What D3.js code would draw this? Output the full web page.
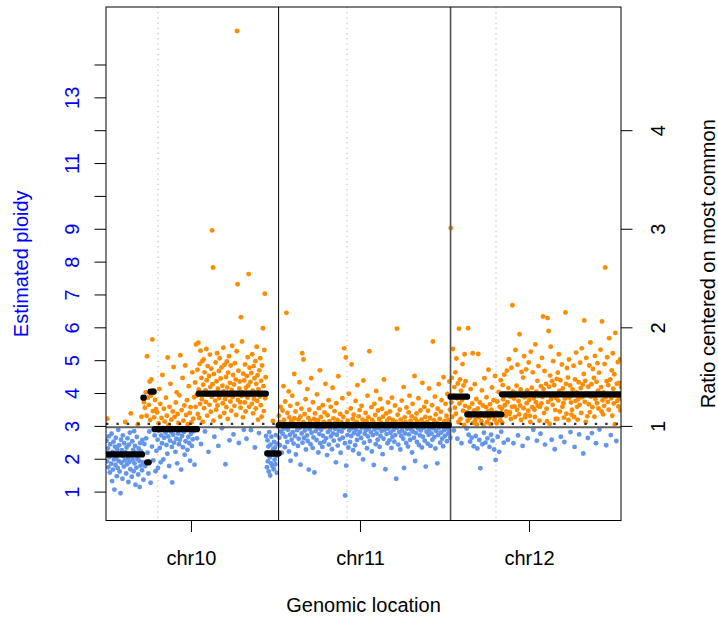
<!DOCTYPE html>
<html>
<head>
<meta charset="utf-8">
<script src="https://cdnjs.cloudflare.com/ajax/libs/d3/7.8.5/d3.min.js"></script>
<style>
body { margin: 0; background: #fff; }
svg text { font-family: "Liberation Sans", Arial, sans-serif; font-size: 20px; }
</style>
</head>
<body>
<div id="chart"></div>
<script>

// chromosomes (Mb)
var chrNames = ["chr10", "chr11", "chr12"];
var chrLengths = [135.53, 135.01, 133.85];
var centromeres = [40.8, 53.7, 35.7];
var chrTickMb = [66.7, 63.9, 61.6];

// axes
var ploidyTicks = [1, 2, 3, 4, 5, 6, 7, 8, 9, 10, 11, 12, 13, 14];
var ploidyLabels = [1, 2, 3, 4, 5, 6, 7, 8, 9, 11, 13];
var ratioTicks = [1, 2, 3, 4];

var colourSplit = 2.955;   // most common level, solid grey line
var refLevel = 3.06;       // dotted line

// [position Mb, estimated ploidy]
var chr10Points = [
[0.4,2.55],[0.8,1.92],[1.1,3.22],[1.5,2.31],[1.9,1.74],[2.2,2.68],[2.6,2.05],[3.0,1.58],[3.3,2.44],[3.7,2.12],
[4.1,1.85],[4.4,2.76],[4.8,1.32],[5.2,2.21],[5.5,1.67],[5.9,2.52],[6.3,1.98],[6.6,1.06],[7.0,2.37],[7.4,1.81],
[7.7,2.64],[8.1,2.02],[8.5,1.47],[8.8,2.29],[9.2,1.72],[9.6,2.88],[9.9,1.93],[10.3,2.41],[10.7,1.61],[11.0,2.15],
[11.4,0.95],[11.8,2.58],[12.1,1.88],[12.5,2.26],[12.9,1.39],[13.2,2.71],[13.6,2.08],[14.0,1.76],[14.3,2.47],[14.7,1.95],
[15.1,3.12],[15.4,2.19],[15.8,1.55],[16.2,2.34],[16.5,1.83],[16.9,2.62],[17.3,2.01],[17.6,1.29],[18.0,2.43],[18.4,1.9],
[18.7,2.79],[19.1,1.68],[19.5,3.38],[19.8,2.11],[20.2,1.45],[20.6,2.53],[20.9,1.97],[21.3,2.27],[21.7,1.62],[22.0,2.84],
[22.4,1.86],[22.8,2.39],[23.1,1.21],[23.5,2.18],[23.9,1.73],[24.2,2.66],[24.6,1.99],[25.0,3.05],[25.3,1.52],[25.7,2.31],
[26.1,1.94],[26.4,1.14],[26.8,2.48],[27.2,1.79],[27.5,2.22],[27.9,3.28],[28.3,1.65],[28.6,2.57],[29.0,1.89],[29.4,1.36],
[29.8,3.72],[30.1,2.45],[30.5,3.55],[30.8,1.78],[31.2,4.02],[31.5,2.62],[31.9,3.31],[32.2,5.12],[32.6,2.18],[32.9,3.86],
[33.3,1.55],[33.6,3.64],[34.0,2.83],[34.3,4.35],[34.7,3.18],[35.0,1.27],[35.4,3.92],[35.7,4.41],[36.1,2.37],[36.4,5.63],
[36.8,3.45],[37.1,1.95],[37.5,4.08],[37.8,3.26],[38.2,2.71],[38.5,3.79],[38.9,1.62],[39.2,3.51],[39.6,2.24],
[40.1,3.41],[40.5,2.58],[40.8,1.72],[41.2,3.08],[41.5,2.86],[41.9,4.12],[42.2,2.33],[42.6,3.67],[42.9,1.89],[43.3,2.71],
[43.6,3.24],[44.0,2.47],[44.3,4.55],[44.7,2.91],[45.0,1.98],[45.4,3.52],[45.7,2.64],[46.1,3.13],[46.4,1.45],[46.8,2.79],
[47.1,3.86],[47.5,2.42],[47.8,3.31],[48.2,2.15],[48.5,5.08],[48.9,2.68],[49.2,3.02],[49.6,1.78],[49.9,3.58],[50.3,2.55],
[50.6,4.28],[51.0,2.82],[51.3,3.19],[51.7,2.36],[52.0,1.28],[52.4,3.44],[52.7,2.73],[53.1,4.79],[53.4,2.49],[53.8,3.27],
[54.1,2.92],[54.5,2.21],[54.8,3.71],[55.2,2.61],[55.5,4.02],[55.9,1.86],[56.2,3.36],[56.6,2.77],[56.9,3.09],[57.3,2.44],
[57.6,3.93],[58.0,2.58],[58.3,5.15],[58.7,2.87],[59.0,1.67],[59.4,3.48],[59.7,2.69],[60.1,4.46],[60.4,2.35],[60.8,3.16],
[61.1,2.81],[61.5,3.62],[61.8,2.12],[62.2,4.84],[62.5,2.53],[62.9,3.33],[63.2,2.94],[63.6,3.78],[63.9,2.27],[64.3,3.05],
[64.6,2.66],[65.0,4.21],[65.3,2.48],[65.7,3.39],[66.0,1.94],[66.4,3.57],[66.7,2.76],[67.1,3.11],[67.4,2.39],[67.8,4.63],
[68.1,2.59],[68.5,3.22],[68.8,2.84],[69.2,3.87],[69.5,1.82],
[70.0,4.32],[70.4,3.58],[70.7,5.48],[71.1,3.92],[71.4,2.62],[71.8,4.71],[72.1,3.36],[72.5,5.53],[72.8,4.11],[73.2,3.24],
[73.5,4.88],[73.9,3.67],[74.2,5.29],[74.6,2.45],[74.9,4.46],[75.3,3.81],[75.6,4.97],[76.0,3.12],[76.3,4.25],[76.7,5.02],
[77.0,3.54],[77.4,4.63],[77.7,2.83],[78.1,4.08],[78.4,3.73],[78.8,5.34],[79.1,4.39],[79.5,3.31],[79.8,4.82],[80.2,3.95],
[80.5,2.21],[80.9,4.52],[81.2,3.64],[81.6,5.17],[81.9,4.18],[82.3,3.43],[82.6,4.74],[83.0,3.89],[83.3,8.95],[83.7,4.27],
[84.0,7.82],[84.4,3.16],[84.7,4.58],[85.1,2.67],[85.4,4.01],[85.8,3.77],[86.1,4.93],[86.5,3.49],[86.8,4.36],[87.2,5.21],
[87.5,3.62],[87.9,4.13],[88.2,2.39],[88.6,4.67],[88.9,3.85],[89.3,5.06],[89.6,3.28],[90.0,4.44],[90.3,3.96],[90.7,4.78],
[91.0,2.93],[91.4,4.22],[91.7,3.69],[92.1,5.38],[92.4,4.05],[92.8,3.39],[93.1,4.86],[93.5,3.82],[93.8,1.83],[94.2,4.49],
[94.5,3.57],[94.9,4.96],[95.2,4.17],[95.6,3.21],[95.9,4.62],[96.3,3.93],[96.6,5.12],[97.0,2.56],[97.3,4.31],[97.7,3.74],
[98.0,4.84],[98.4,3.46],[98.7,4.09],[99.1,5.44],[99.4,3.88],[99.8,4.55],[100.1,2.74],[100.5,4.26],[100.8,3.61],[101.2,4.91],
[101.5,3.97],[101.9,4.41],[102.2,3.33],[102.6,5.27],[102.9,15.02],[103.3,7.31],[103.6,3.79],[104.0,4.68],[104.3,2.48],[104.7,4.14],
[105.0,4.35],[105.4,3.72],[105.7,3.55],[106.0,6.31],[106.4,3.91],[106.8,5.57],[107.1,4.02],[107.5,3.26],[107.8,4.59],[108.2,2.88],
[108.5,4.38],[108.9,3.71],[109.2,4.87],[109.6,3.44],[109.9,4.16],[110.3,2.61],[110.6,4.52],[111.0,3.86],[111.3,5.09],[111.7,4.23],
[112.0,7.62],[112.4,3.58],[112.7,4.77],[113.1,3.95],[113.4,4.34],[113.8,2.87],[114.1,4.61],[114.5,3.67],[114.8,5.18],[115.2,4.07],
[115.5,3.38],[115.9,4.82],[116.2,3.82],[116.6,4.45],[116.9,2.34],[117.3,4.97],[117.6,3.53],[118.0,4.28],[118.3,5.41],[118.7,3.76],
[119.0,4.54],[119.4,3.19],[119.7,4.12],[120.1,2.78],[120.4,4.69],[120.8,3.89],[121.1,5.06],[121.5,3.63],[121.8,4.37],[122.2,3.28],
[122.5,4.84],[122.9,3.97],[123.2,5.97],[123.6,4.21],[123.9,3.45],[124.3,5.31],[124.7,7.02],[125.0,3.84],[125.4,4.48],[125.7,2.69],
[126.1,2.18],[126.4,1.74],[126.8,2.56],[127.1,1.92],[127.5,2.37],[127.8,1.61],[128.2,2.81],[128.5,2.04],[128.9,1.49],[129.2,2.43],
[129.6,1.86],[129.9,2.67],[130.3,2.12],[130.6,1.78],[131.0,3.15],[131.3,2.29],[131.7,1.68],[132.0,2.51],[132.4,1.97],[132.7,2.34],
[133.1,1.83],[133.4,2.72],[133.8,2.09],[134.1,1.57],[134.5,2.46]
];

var chr11Points = [
[0.2,3.31],[0.5,2.64],[0.9,3.12],[1.0,2.41],[1.6,3.58],[1.8,2.83],[2.3,3.05],[2.5,2.18],[3.1,3.47],[3.2,2.76],
[3.8,4.21],[4.1,2.92],[4.3,3.18],[4.9,2.35],[5.2,3.74],[5.4,2.67],[6.1,6.44],[6.2,3.02],[6.8,2.51],[7.0,3.39],
[7.3,2.88],[7.9,4.05],[8.1,2.22],[8.4,3.26],[8.9,2.73],[9.2,3.61],[9.4,1.94],[10.0,3.14],[10.2,2.58],[10.7,3.92],
[11.1,2.81],[11.3,3.08],[11.8,2.46],[12.3,4.58],[12.4,3.23],[12.9,2.69],[13.3,3.44],[13.6,2.13],[14.0,3.01],[14.5,2.87],
[14.7,3.67],[15.2,2.39],[15.6,3.19],[15.8,2.61],[16.4,4.33],[16.6,2.94],[17.1,3.28],[17.2,1.82],[17.9,3.52],[18.1,2.77],
[18.5,5.21],[18.8,2.49],[19.3,3.11],[19.5,5.02],[20.0,2.63],[20.4,3.36],[20.6,2.86],[21.2,3.81],[21.5,2.28],[21.7,3.06],
[22.3,2.71],[22.6,4.12],[22.8,2.54],[23.4,3.24],[23.7,1.67],[24.1,3.49],[24.3,2.9],[24.9,3.15],[25.1,2.44],[25.6,4.45],
[25.9,2.79],[26.2,3.03],[26.8,2.33],[27.0,3.72],[27.4,2.65],[27.9,3.21],[28.1,1.58],[28.6,3.38],[29.0,2.84],[29.3,3.09],
[29.8,2.57],[30.1,3.96],[30.4,2.92],[31.0,3.17],[31.2,2.19],[31.7,3.54],[32.0,2.75],[32.4,4.69],[32.7,2.47],[33.2,3.27],
[33.5,2.88],[33.9,3.04],[34.3,2.36],[34.7,3.63],[34.8,2.7],[35.4,3.12],[35.8,2.52],[36.1,3.41],[36.6,2.96],[36.8,4.28],
[37.3,2.62],[37.6,3.07],[38.1,2.11],[38.4,3.32],[38.7,2.81],[39.3,3.78],[39.5,2.43],[40.0,3.14],[40.3,2.89],[40.9,3.58],
[41.1,2.68],[41.5,3.02],[41.9,2.29],[42.4,4.16],[42.6,2.77],[43.1,3.23],[43.3,2.55],[43.9,3.45],[44.2,2.91],[44.5,3.09],
[45.0,1.89],[45.3,3.69],[45.7,2.73],[46.2,3.18],[46.4,2.4],[46.9,4.51],[47.3,2.85],[47.5,3.05],[48.0,2.59],[48.4,3.36],
[48.7,2.18],[49.3,3.11],[49.5,2.83],[50.1,3.84],[50.4,2.64],[50.8,3.27],[51.2,2.94],[51.5,5.36],[52.1,2.47],[52.3,0.88],
[52.8,5.08],[53.1,1.79],[53.6,3.42],[54.0,2.72],[54.2,3.16],[54.8,2.34],[55.1,3.98],[55.4,2.86],[55.9,3.04],[56.1,2.51],
[56.6,3.53],[57.0,2.69],[57.3,4.87],[57.7,2.93],[58.2,3.21],[58.5,2.26],[58.9,3.34],[59.2,2.78],[59.6,3.07],[60.1,2.41],
[60.5,3.76],[60.7,2.88],[61.3,3.12],[61.6,2.57],[61.9,4.24],[62.5,2.74],[62.8,3.29],[63.0,2.15],[63.6,3.48],[63.9,2.82],
[64.2,3.02],[64.8,2.63],[65.1,3.61],[65.4,2.95],[65.9,3.19],[66.3,1.98],[66.6,4.38],[67.1,2.49],[67.4,3.08],[67.7,2.76],
[68.3,3.39],[68.5,2.87],[69.0,3.14],[69.4,2.32],[69.8,3.92],[70.1,2.68],[70.5,3.26],[70.8,2.91],[71.3,5.27],[71.6,2.54],
[72.1,3.04],[72.4,2.81],[72.9,3.57],[73.2,2.22],[73.5,3.18],[74.0,2.72],[74.3,3.11],[74.7,1.81],[75.2,3.67],[75.4,2.89],
[75.9,3.33],[76.3,2.44],[76.6,4.06],[76.9,2.77],[77.5,3.06],[77.8,2.58],[78.1,3.47],[78.6,2.93],[78.9,3.21],[79.3,2.36],
[79.8,3.82],[80.0,2.69],[80.5,3.09],[80.9,2.84],[81.2,3.52],[81.7,2.14],[82.0,3.28],[82.4,2.61],[82.7,4.41],[83.3,2.88],
[83.6,3.03],[83.9,1.68],[84.5,3.38],[84.8,2.75],[85.2,3.15],[85.5,2.47],[86.0,3.71],[86.2,2.91],[86.8,3.23],[87.1,2.56],
[87.4,3.44],[87.9,2.79],[88.3,3.07],[88.6,2.33],[89.0,3.86],[89.4,2.66],[89.7,3.18],[90.2,2.87],[90.5,3.01],[90.9,2.52],
[91.4,3.62],[91.6,2.72],[92.1,3.12],[92.3,1.39],[92.9,5.96],[93.2,2.94],[93.5,3.34],[94.0,2.43],[94.4,3.05],[94.7,2.81],
[95.1,3.49],[95.6,2.28],[95.8,3.19],[96.3,2.69],[96.7,3.77],[97.0,2.86],[97.5,3.08],[97.8,2.61],[98.2,4.18],[98.5,1.72],
[99.0,3.26],[99.3,2.77],[99.7,3.11],[100.2,2.48],[100.4,3.56],[100.9,2.91],[101.3,3.04],[101.6,2.37],[102.1,3.41],
[102.5,2.74],[102.8,3.92],[103.3,2.58],[103.6,3.15],[104.0,2.89],[104.5,3.29],[104.8,2.19],[105.2,3.67],[105.5,2.83],
[106.0,3.06],[106.3,2.64],[106.7,4.52],[107.2,1.93],[107.4,3.22],[107.9,2.78],[108.3,3.38],[108.6,2.51],[109.0,3.13],
[109.5,2.92],[109.8,3.84],[110.2,2.42],[110.5,3.02],[111.0,2.71],[111.4,3.47],[111.6,2.86],[112.2,3.19],[112.5,2.34],
[112.9,4.31],[113.3,2.67],[113.6,3.09],[114.0,2.94],[114.4,3.58],[114.7,2.55],[115.2,3.27],[115.5,1.76],[115.9,3.73],
[116.2,2.82],[116.6,3.12],[117.0,2.46],[117.3,3.46],[117.8,2.73],[118.1,4.14],[118.4,2.89],[118.9,3.24],[119.3,2.39],
[119.6,3.04],[120.0,2.77],[120.5,3.63],[120.7,2.58],[121.2,5.57],[121.6,2.93],[121.9,3.17],[122.4,2.66],[122.7,3.89],
[123.1,2.31],[123.4,3.35],[123.9,2.84],[124.2,3.08],[124.6,1.86],[124.9,3.52],[125.4,2.72],[125.7,4.27],[126.1,2.95],
[126.5,3.21],[126.8,2.49],[127.3,3.43],[127.6,2.8],[128.0,3.78],[128.4,2.61],[128.7,3.06],[129.2,2.38],[129.5,4.48],
[129.9,2.87],[130.3,3.14],[130.6,2.69],[131.1,3.67],[131.4,2.91],[131.8,3.31],[132.2,2.53],[132.5,3.97],[133.0,2.76],
[133.3,3.18],[133.7,2.88],[134.1,4.35],[134.5,3.49],[134.8,2.64]
];

var chr12Points = [
[0.2,9.02],[0.6,3.71],[1.0,4.46],[1.4,3.28],[1.8,5.34],[2.2,3.92],[2.6,2.86],[3.0,4.18],[3.4,3.55],[3.8,4.63],
[4.2,3.37],[4.6,5.05],[5.0,3.84],[5.4,2.61],[5.8,4.29],[6.2,3.12],[6.6,5.96],[7.0,3.68],[7.4,4.41],[7.8,3.21],
[8.2,4.07],[8.6,2.47],[9.0,3.79],[9.4,4.88],[9.8,3.46],[10.2,4.23],[10.6,3.03],[11.0,5.18],[11.4,3.61],[11.8,4.36],
[12.2,3.88],[12.6,2.92],[13.0,3.41],[13.4,3.15],[13.8,5.97],[14.2,2.73],[14.6,3.56],[15.0,3.24],[15.4,2.52],[15.8,4.12],
[16.2,3.31],[16.6,2.64],[17.0,3.68],[17.4,5.21],[17.8,3.09],[18.2,2.38],[18.6,3.47],[19.0,4.27],[19.4,3.18],[19.8,2.69],
[20.2,3.82],[20.6,3.04],[21.0,2.31],[21.4,3.53],[21.8,5.19],[22.2,3.26],[22.6,2.57],[23.0,3.71],[23.4,1.71],[23.8,3.38],
[24.2,3.14],[24.6,4.08],[25.0,2.44],[25.4,3.62],[25.8,3.01],[26.2,2.79],[26.6,4.45],[27.0,3.29],[27.4,2.49],[27.8,3.57],
[28.2,3.87],[28.6,3.11],[29.0,2.62],[29.4,3.44],[29.8,4.71],[30.2,3.23],[30.6,2.36],[31.0,3.66],[31.4,3.05],[31.8,2.73],
[32.2,3.49],[32.6,4.17],[33.0,2.55],[33.4,3.33],[33.8,3.78],[34.2,2.28],[34.6,3.19],[35.0,4.52],[35.4,1.96],[35.8,3.41],
[36.2,3.08],[36.6,3.74],[37.0,2.67],[37.4,3.36],[37.8,4.03],[38.2,2.21],[38.6,3.58],[39.0,3.17],[39.4,4.39],[39.8,2.82],
[40.2,3.52],[40.6,3.09],[41.0,4.24],[41.4,3.81],[41.8,2.49],[42.2,4.56],[42.6,3.63],[43.0,3.97],[43.4,3.31],[43.8,3.44],
[44.2,4.68],[44.6,3.72],[45.0,2.58],[45.4,4.15],[45.8,5.03],[46.2,3.36],[46.6,3.42],[47.0,3.89],[47.4,3.21],[47.8,4.77],
[48.2,3.58],[48.6,6.67],[49.0,4.04],[49.4,2.47],[49.8,3.83],[50.2,3.59],[50.6,3.27],[51.0,5.31],[51.4,3.94],[51.8,4.22],
[52.2,3.49],[52.6,4.86],[53.0,2.71],[53.4,3.76],[53.8,3.35],[54.2,5.79],[54.6,3.62],[55.0,4.11],[55.4,3.18],[55.8,4.64],
[56.2,3.91],[56.6,2.39],[57.0,4.47],[57.4,3.54],[57.8,5.12],[58.2,3.87],[58.6,3.26],[59.0,3.33],[59.4,4.72],[59.8,3.69],
[60.2,4.08],[60.6,2.62],[61.0,3.46],[61.4,4.93],[61.8,3.79],[62.2,3.31],[62.6,3.12],[63.0,5.26],[63.4,3.98],[63.8,4.16],
[64.2,3.57],[64.6,4.63],[65.0,2.88],[65.4,3.84],[65.8,3.49],[66.2,3.27],[66.6,5.48],[67.0,3.72],[67.4,4.04],[67.8,2.55],
[68.2,4.37],[68.6,3.61],[69.0,4.82],[69.4,3.93],[69.8,3.16],[70.2,3.58],[70.6,2.76],[71.0,4.21],[71.4,3.68],[71.8,5.07],
[72.2,3.88],[72.6,6.33],[73.0,4.12],[73.4,3.39],[73.8,4.67],[74.2,2.43],[74.6,3.95],[75.0,4.28],[75.4,3.52],[75.8,3.14],
[76.2,6.28],[76.6,3.73],[77.0,5.89],[77.4,4.19],[77.8,3.06],[78.2,4.53],[78.6,5.41],[79.0,3.82],[79.4,2.58],[79.8,4.36],
[80.2,3.64],[80.6,4.97],[81.0,3.91],[81.4,4.24],[81.8,2.29],[82.2,3.48],[82.6,3.21],[83.0,3.85],[83.4,4.43],[83.8,3.21],
[84.2,4.62],[84.6,3.77],[85.0,5.18],[85.4,4.06],[85.8,3.44],[86.2,4.39],[86.6,2.67],[87.0,3.96],[87.4,4.87],[87.8,3.58],
[88.2,4.14],[88.6,3.69],[89.0,3.25],[89.4,2.51],[89.8,3.83],[90.2,6.45],[90.6,4.28],[91.0,3.37],[91.4,4.76],[91.8,3.92],
[92.2,4.47],[92.6,3.18],[93.0,5.02],[93.4,3.86],[93.8,4.23],[94.2,2.81],[94.6,3.71],[95.0,3.34],[95.4,3.49],[95.8,4.11],
[96.2,3.94],[96.6,4.83],[97.0,3.27],[97.4,2.36],[97.8,4.41],[98.2,3.76],[98.6,5.23],[99.0,4.02],[99.4,3.58],[99.8,3.19],
[100.2,3.81],[100.6,4.33],[101.0,2.74],[101.4,3.64],[101.8,4.92],[102.2,4.15],[102.6,3.39],[103.0,5.36],[103.4,3.87],[103.8,4.26],
[104.2,2.16],[104.6,4.58],[105.0,6.21],[105.4,3.73],[105.8,4.37],[106.2,3.12],[106.6,5.07],[107.0,3.98],[107.4,3.29],[107.8,2.63],
[108.2,4.19],[108.6,3.66],[109.0,4.84],[109.4,3.42],[109.8,5.54],[110.2,3.89],[110.6,4.27],[111.0,2.78],[111.4,3.57],[111.8,4.73],
[112.2,3.95],[112.6,4.46],[113.0,3.28],[113.4,5.13],[113.8,3.81],[114.2,2.47],[114.6,4.34],[115.0,3.69],[115.4,4.91],[115.8,4.07],
[116.2,3.53],[116.6,4.62],[117.0,2.89],[117.4,3.97],[117.8,5.32],[118.2,4.18],[118.6,3.44],[119.0,6.18],[119.4,3.78],[119.8,3.35],
[120.2,4.02],[120.6,3.61],[121.0,4.88],[121.4,7.82],[121.8,3.87],[122.2,2.41],[122.6,4.36],[123.0,5.09],[123.4,3.73],[123.8,4.24],
[124.2,3.49],[124.6,5.67],[125.0,3.96],[125.4,4.41],[125.8,2.72],[126.2,3.84],[126.6,4.69],[127.0,3.31],[127.4,5.21],[127.8,4.13],
[128.2,3.68],[128.6,4.57],[129.0,3.05],[129.4,5.83],[129.8,3.92],[130.2,2.54],[130.6,4.28],[131.0,3.76],[131.4,4.94],[131.8,3.59],
[132.2,4.31],[132.6,3.84],[133.0,5.02],[133.4,3.47],[133.8,4.18]
];

// segments: [start Mb, end Mb, ploidy]
var chr10Segments = [[0, 28.3, 2.13], [32.4, 33.5, 1.89], [29.4, 29.6, 3.86], [35.0, 37.4, 4.04],
                     [38.2, 71.4, 2.9], [72.8, 125.5, 3.98], [126.7, 135.5, 2.16]];
var chr11Segments = [[0.1, 133.5, 3.02]];
var chr12Segments = [[0, 13.0, 3.89], [13.2, 39.9, 3.35], [40.4, 133.9, 3.96]];


function PloidyPlot(config) {
    this.config = config;

    this._init();
}

PloidyPlot.prototype._init = function(){

    this._build_graph();
    this._add_guides();
    this._add_points();
    this._add_lines();
    this._add_segments();
    this._add_axes();
    this._add_labels();

};


PloidyPlot.prototype._build_graph = function(){

    var config = this.config;

    this.width = config.full_width - config.margin.left - config.margin.right;
    this.height = config.full_height - config.margin.top - config.margin.bottom;

    // cumulative start of each chromosome
    var offsets = [0];
    for (var i = 0; i < chrLengths.length; i++) {
        offsets.push(offsets[i] + chrLengths[i]);
    }
    this.offsets = offsets;

    this._svg = d3.select(config.container_id)
        .append("svg")
        .attr("width", config.full_width)
        .attr("height", config.full_height);

    this._chart = this._svg
        .append("g")
        .attr("transform", "translate(" + config.margin.left + "," + config.margin.top + ")");

    this.x = d3.scaleLinear()
        .domain([0, offsets[offsets.length - 1]])
        .range([0, this.width]);

    this.y = d3.scaleLinear()
        .domain(config.ploidy_domain)
        .range([this.height, 0]);

    this.yRatio = d3.scaleLinear()
        .domain(config.ploidy_domain.map(function(d){ return d / 3; }))
        .range([this.height, 0]);

    this._svg.append("defs").append("clipPath")
        .attr("id", "plot-clip")
        .append("rect")
        .attr("width", this.width)
        .attr("height", this.height);

    this._plot = this._chart.append("g").attr("clip-path", "url(#plot-clip)");

};


PloidyPlot.prototype._add_guides = function(){

    var self = this;

    // centromeres
    this._plot.selectAll("line.centromere")
        .data(centromeres)
        .enter().append("line")
        .attr("class", "centromere")
        .attr("x1", function(d, i){ return self.x(self.offsets[i] + d); })
        .attr("x2", function(d, i){ return self.x(self.offsets[i] + d); })
        .attr("y1", 0)
        .attr("y2", this.height)
        .style("stroke", "#b4b4b4")
        .style("stroke-width", 1)
        .style("stroke-dasharray", "1.3,3.9");

};


PloidyPlot.prototype._add_points = function(){

    var self = this;
    var all = [chr10Points, chr11Points, chr12Points];
    var points = [];

    all.forEach(function(list, c){
        list.forEach(function(d){
            points.push({pos: self.offsets[c] + d[0], val: d[1]});
        });
    });

    this._plot.selectAll("circle")
        .data(points)
        .enter().append("circle")
        .attr("cx", function(d){ return self.x(d.pos); })
        .attr("cy", function(d){ return self.y(d.val); })
        .attr("r", 2.45)
        .style("fill", function(d){ return d.val > colourSplit ? "#ff8c00" : "#6495ed"; });

};


PloidyPlot.prototype._add_lines = function(){

    var self = this;

    this._plot.append("line")
        .attr("x1", 0).attr("x2", this.width)
        .attr("y1", this.y(refLevel)).attr("y2", this.y(refLevel))
        .style("stroke", "#333")
        .style("stroke-width", 2.4)
        .style("stroke-dasharray", "2.4,8");

    this._plot.append("line")
        .attr("x1", 0).attr("x2", this.width)
        .attr("y1", this.y(colourSplit)).attr("y2", this.y(colourSplit))
        .style("stroke", "#5f5f5f")
        .style("stroke-width", 2);

    // chromosome boundaries
    this._plot.selectAll("line.boundary")
        .data(this.offsets.slice(1, -1))
        .enter().append("line")
        .attr("class", "boundary")
        .attr("x1", function(d){ return self.x(d); })
        .attr("x2", function(d){ return self.x(d); })
        .attr("y1", 0)
        .attr("y2", this.height)
        .style("stroke", function(d, i){ return i == 0 ? "#000" : "#505050"; })
        .style("stroke-width", function(d, i){ return i == 0 ? 1 : 1.6; });

};


PloidyPlot.prototype._add_segments = function(){

    var self = this;
    var all = [chr10Segments, chr11Segments, chr12Segments];
    var segs = [];

    all.forEach(function(list, c){
        list.forEach(function(d){
            segs.push({x0: self.offsets[c] + d[0], x1: self.offsets[c] + d[1], val: d[2]});
        });
    });

    this._plot.selectAll("line.segment")
        .data(segs)
        .enter().append("line")
        .attr("class", "segment")
        .attr("x1", function(d){ return self.x(d.x0); })
        .attr("x2", function(d){ return self.x(d.x1); })
        .attr("y1", function(d){ return self.y(d.val); })
        .attr("y2", function(d){ return self.y(d.val); })
        .style("stroke", "#000")
        .style("stroke-width", 6.3)
        .style("stroke-linecap", "round");

};


PloidyPlot.prototype._add_axes = function(){

    var self = this;
    var tick = this.config.tick_size;

    var left = this._chart.append("g")
        .call(d3.axisLeft(this.y)
            .tickValues(ploidyTicks)
            .tickSize(tick)
            .tickFormat(function(d){ return ploidyLabels.indexOf(d) >= 0 ? d : ""; }));

    left.selectAll(".tick text")
        .attr("x", 0).attr("dy", null)
        .attr("text-anchor", "middle")
        .attr("transform", "translate(-27,0) rotate(-90)")
        .attr("fill", "#0000ff");

    var right = this._chart.append("g")
        .attr("transform", "translate(" + this.width + ",0)")
        .call(d3.axisRight(this.yRatio)
            .tickValues(ratioTicks)
            .tickSize(tick)
            .tickFormat(d3.format("d")));

    right.selectAll(".tick text")
        .attr("x", 0).attr("dy", null)
        .attr("text-anchor", "middle")
        .attr("transform", "translate(44,0) rotate(-90)")
        .attr("fill", "#000");

    var tickPos = chrTickMb.map(function(d, i){ return self.offsets[i] + d; });

    var bottom = this._chart.append("g")
        .attr("transform", "translate(0," + this.height + ")")
        .call(d3.axisBottom(this.x)
            .tickValues(tickPos)
            .tickSize(tick)
            .tickFormat(function(d, i){ return chrNames[i]; }));

    bottom.selectAll(".tick text")
        .attr("y", 44.5).attr("dy", null)
        .attr("fill", "#000");

    [left, right, bottom].forEach(function(g){
        g.select(".domain").remove();
        g.selectAll(".tick line").style("stroke", "#000");
    });

    // box
    this._chart.append("rect")
        .attr("width", this.width)
        .attr("height", this.height)
        .style("fill", "none")
        .style("stroke", "#000")
        .style("stroke-width", 1);

};


PloidyPlot.prototype._add_labels = function(){

    var mid = this.height / 2;

    this._chart.append("text")
        .attr("x", this.width / 2)
        .attr("y", this.height + 91.5)
        .attr("text-anchor", "middle")
        .text("Genomic location");

    this._chart.append("text")
        .attr("transform", "translate(-78," + mid + ") rotate(-90)")
        .attr("text-anchor", "middle")
        .style("fill", "#0000ff")
        .text("Estimated ploidy");

    this._chart.append("text")
        .attr("transform", "translate(" + (this.width + 93.5) + "," + mid + ") rotate(-90)")
        .attr("text-anchor", "middle")
        .text("Ratio centered on most common");

};


var plot = new PloidyPlot({
    container_id: "#chart",
    full_width: 718,
    full_height: 620,
    margin: {top: 7, right: 97, bottom: 99.5, left: 106},
    ploidy_domain: [0.12, 15.75],
    tick_size: 11.5
});

</script>
</body>
</html>
